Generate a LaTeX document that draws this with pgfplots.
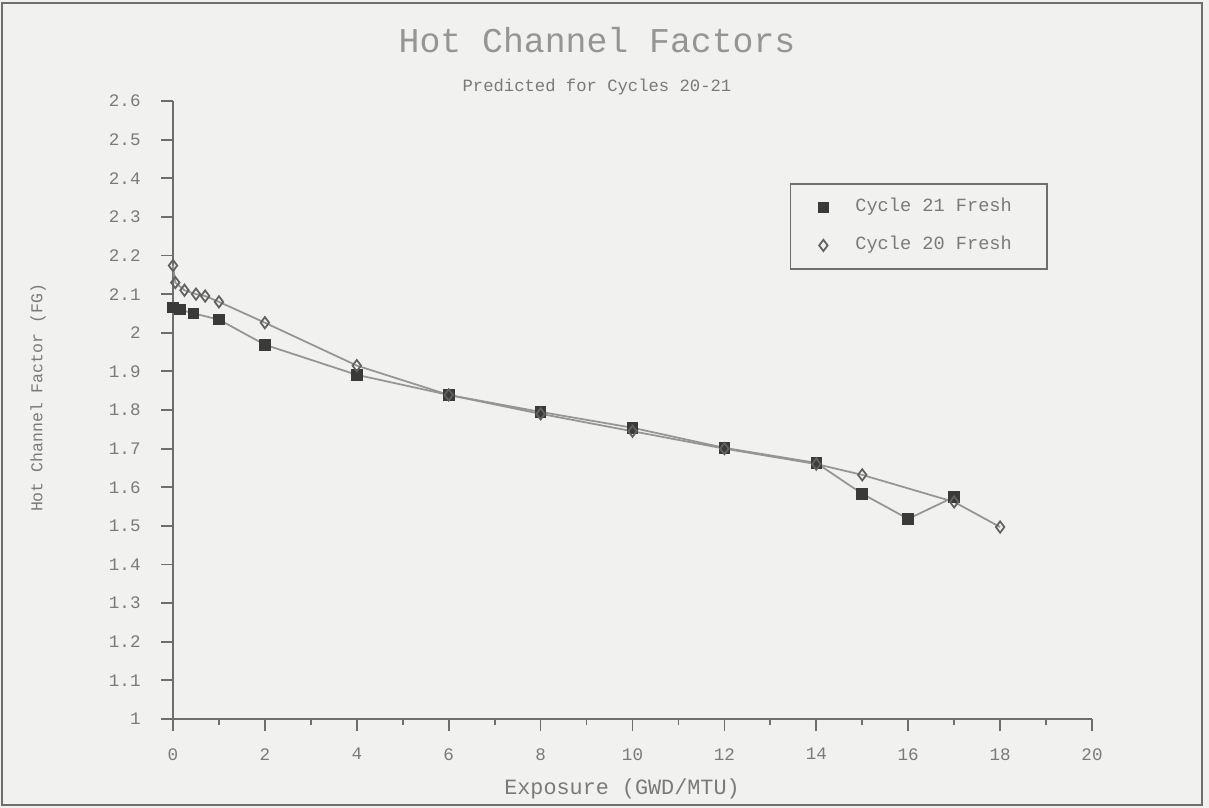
\documentclass[border=0pt]{standalone}
\usepackage{pgfplots}
\pgfplotsset{compat=1.18}
\usepackage{fontspec}
\setmainfont{Liberation Mono}
\definecolor{bg}{HTML}{F1F1F0}
\definecolor{ink}{HTML}{7A7A7A}
\definecolor{titleink}{HTML}{959595}
\definecolor{axisgray}{HTML}{6E6E6E}
\definecolor{markdark}{HTML}{3A3A3A}

\begin{document}
\begin{tikzpicture}[x=1cm,y=1cm]
\fill[bg] (0,0) rectangle (12.09,8.08);
\draw[axisgray, line width=0.6pt] (0.02,0.03) rectangle (12.02,8.05);
\useasboundingbox (0,0) rectangle (12.09,8.08);

\node[titleink, font=\fontsize{9.9pt}{11pt}\selectfont] at (5.97,7.68) {Hot Channel Factors};
\node[ink, font=\fontsize{4.9pt}{6pt}\selectfont] at (5.97,7.21) {Predicted for Cycles 20-21};
\node[ink, rotate=90, font=\fontsize{4.7pt}{6pt}\selectfont] at (0.38,4.10) {Hot Channel Factor (FG)};
\node[ink, font=\fontsize{6.2pt}{7pt}\selectfont] at (6.22,0.19) {Exposure (GWD/MTU)};

\begin{axis}[
    at={(1.73cm,0.89cm)}, anchor=south west,
    scale only axis,
    width=9.19cm, height=6.18cm,
    xmin=0, xmax=20,
    ymin=1, ymax=2.6,
    axis x line*=bottom, axis y line*=left,
    axis line style={axisgray, line width=0.5pt, -},
    xtick={0,2,...,20},
    minor xtick={1,3,...,19},
    ytick={1,1.1,...,2.61},
    yticklabels={1,1.1,1.2,1.3,1.4,1.5,1.6,1.7,1.8,1.9,2,2.1,2.2,2.3,2.4,2.5,2.6},
    xticklabels={0,2,4,6,8,10,12,14,16,18,20},
    tick style={axisgray, line width=0.5pt},
    tick align=outside,
    major tick length=0.12cm,
    minor tick length=0.06cm,
    ticklabel style={ink, font=\fontsize{5pt}{6pt}\selectfont},
    xticklabel style={yshift=-0.05cm},
    yticklabel style={xshift=-0.08cm},
    clip=false,
    legend cell align=left,
    legend style={at={(0.671,0.867)}, anchor=north west, draw=axisgray,
        fill=none, font=\fontsize{5.3pt}{6pt}\selectfont, text=ink,
        inner xsep=8pt, inner ysep=2pt, row sep=1.5pt,
        /tikz/every odd column/.append style={column sep=0.2cm},
        /tikz/every even column/.append style={column sep=0.2cm}},
    legend image code/.code={\draw[#1] plot coordinates {(0.2cm,0cm)};},
]
\addplot[color=ink!80, line width=0.5pt, mark=square*,
    mark options={fill=markdark, draw=markdark, mark size=1.4pt}] coordinates {
(0,2.065) (0.15,2.06) (0.45,2.05) (1,2.034) (2,1.969) (4,1.891) (6,1.839)
(8,1.795) (10,1.754) (12,1.702) (14,1.663) (15,1.583) (16,1.518) (17,1.575)
};
\addlegendentry{Cycle 21 Fresh}
\addplot[color=ink!80, line width=0.5pt, mark=diamond,
    mark options={draw=markdark!80, fill=bg, mark size=1.6pt}] coordinates {
(0,2.174) (0.05,2.13) (0.25,2.11) (0.5,2.10) (0.7,2.095) (1,2.08) (2,2.026)
(4,1.915) (6,1.839) (8,1.79) (10,1.745) (12,1.70) (14,1.66) (15,1.632)
(17,1.562) (18,1.497)
};
\addlegendentry{Cycle 20 Fresh}
\end{axis}
\end{tikzpicture}
\end{document}
